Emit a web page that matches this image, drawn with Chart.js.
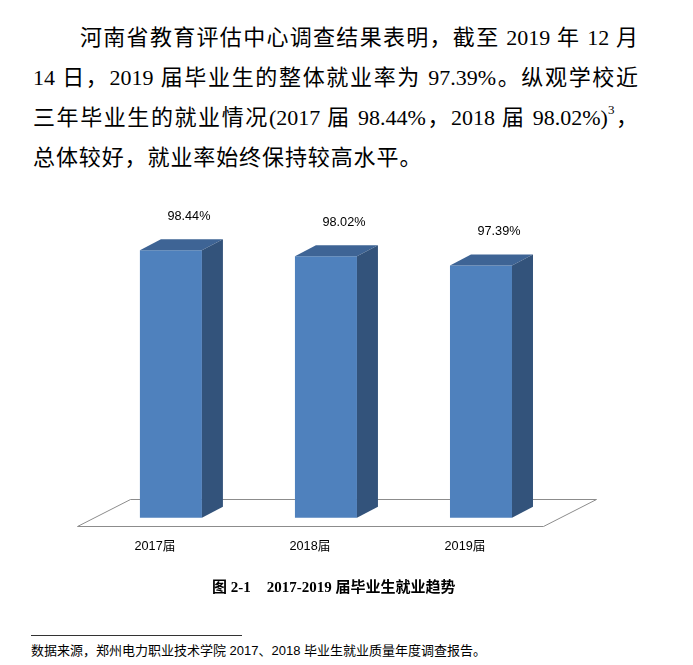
<!DOCTYPE html>
<html>
<head>
<meta charset="utf-8">
<script src="https://cdn.jsdelivr.net/npm/chart.js"></script>
<style>
  body { margin: 0; background: #fff; width: 693px; height: 665px; position: relative; overflow: hidden; }
  .para { position: absolute; left: 33px; top: 18px; width: 605px; color: #000;
          font-family: "Liberation Serif", "Noto Sans CJK SC", serif; font-size: 22px; line-height: 40px; }
  .para .j { text-align: justify; text-align-last: justify; }
  .para sup { font-size: 13px; line-height: 0; vertical-align: 11px; }
  #box { position: absolute; left: 0; top: 190px; width: 693px; height: 402px; }
  .cap { position: absolute; left: 212px; top: 577px; line-height: 20px; font-size: 15px; font-weight: bold;
         font-family: "Liberation Serif", "Noto Sans CJK SC", serif; color: #000; white-space: nowrap; }
  .rule { position: absolute; left: 31px; top: 635px; width: 211px; height: 1px; background: #333; }
  .note { position: absolute; left: 31px; top: 642px; line-height: 18px; font-size: 13px; color: #000;
          font-family: "Liberation Sans", "Noto Sans CJK SC", sans-serif; white-space: nowrap; }
</style>
</head>
<body>
<div id="box"><canvas id="myChart" width="693" height="402"></canvas></div>
<div class="para">
  <div class="j" style="margin-left:47px">河南省教育评估中心调查结果表明，截至 2019 年 12 月</div>
  <div class="j">14 日，2019 届毕业生的整体就业率为 97.39%。纵观学校近</div>
  <div class="j">三年毕业生的就业情况(2017 届 98.44%，2018 届 98.02%)<sup>3</sup>，</div>
  <div style="letter-spacing:0.9px">总体较好，就业率始终保持较高水平。</div>
</div>
<div class="cap">图 2-1<span style="display:inline-block;width:16px"></span>2017-2019 届毕业生就业趋势</div>
<div class="rule"></div>
<div class="note">数据来源，郑州电力职业技术学院 2017、2018 毕业生就业质量年度调查报告。</div>
<script>
var categorie = ['2017届', '2018届', '2019届'];
var tassi = [98.44, 98.02, 97.39];
var etichette = ['98.44%', '98.02%', '97.39%'];
var yMin = 80;
var yMax = 100;

// profondita' finta 3D
var DX = 21, DY = -11;

var bar3d = {
    id: 'bar3d',
    beforeDatasetsDraw: function (chart) {
        var ctx = chart.ctx;
        var a = chart.chartArea;
        var y0 = Math.round(chart.scales.y.getPixelForValue(yMin) + 8.3) + 0.5;
        var x0 = Math.round(a.left - 16) + 0.5;
        var x1 = Math.round(a.right - 16) + 0.5;
        ctx.save();
        ctx.beginPath();
        ctx.moveTo(x0, y0);
        ctx.lineTo(x1, y0);
        ctx.lineTo(x1 + 53, y0 - 27);
        ctx.lineTo(x0 + 53, y0 - 27);
        ctx.closePath();
        ctx.fillStyle = '#ffffff';
        ctx.fill();
        ctx.strokeStyle = '#8c8c8c';
        ctx.lineWidth = 1;
        ctx.stroke();
        ctx.restore();
    },
    afterDatasetsDraw: function (chart) {
        var ctx = chart.ctx;
        var meta = chart.getDatasetMeta(0);
        var b = chart.scales.y.getPixelForValue(yMin);
        ctx.save();
        meta.data.forEach(function (bar, i) {
            var l = bar.x - bar.width / 2;
            var r = bar.x + bar.width / 2;
            var t = bar.y;
            // faccia superiore
            ctx.beginPath();
            ctx.moveTo(l, t);
            ctx.lineTo(l + DX, t + DY);
            ctx.lineTo(r + DX, t + DY);
            ctx.lineTo(r, t);
            ctx.closePath();
            ctx.fillStyle = '#3e6495';
            ctx.fill();
            // faccia laterale
            ctx.beginPath();
            ctx.moveTo(r, t);
            ctx.lineTo(r + DX, t + DY);
            ctx.lineTo(r + DX, b + DY);
            ctx.lineTo(r, b);
            ctx.closePath();
            ctx.fillStyle = '#33537b';
            ctx.fill();
            // etichetta
            ctx.fillStyle = '#000';
            ctx.font = '12.7px "Liberation Sans", "Noto Sans CJK SC", sans-serif';
            ctx.textAlign = 'center';
            ctx.textBaseline = 'middle';
            ctx.fillText(etichette[i], bar.x + 18, t - 34);
        });
        ctx.restore();
    }
};

var ctx = document.getElementById('myChart');
var chart = new Chart(ctx, {
    type: 'bar',
    data: {
        labels: categorie,
        datasets: [{
            label: 'Tasso occupazione',
            data: tassi,
            backgroundColor: '#4f81bd',
            borderWidth: 0,
            barPercentage: 0.4,
            categoryPercentage: 1
        }]
    },
    options: {
        responsive: false,
        animation: false,
        devicePixelRatio: 1,
        layout: { padding: { left: 93.4, right: 134.5, top: 37.5, bottom: 17 } },
        plugins: { legend: { display: false }, tooltip: { enabled: false } },
        scales: {
            x: {
                grid: { display: false, drawTicks: false },
                border: { display: false },
                ticks: {
                    labelOffset: -16,
                    padding: 21,
                    color: '#000',
                    font: { family: '"Liberation Sans", "Noto Sans CJK SC", sans-serif', size: 12.7 }
                }
            },
            y: { display: false, min: yMin, max: yMax }
        }
    },
    plugins: [bar3d]
});
</script>
</body>
</html>
